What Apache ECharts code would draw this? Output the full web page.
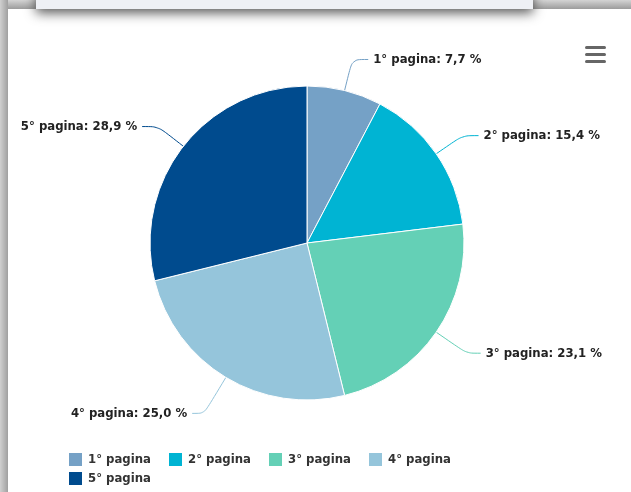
<!DOCTYPE html>
<html>
<head>
<meta charset="utf-8">
<script src="https://cdn.jsdelivr.net/npm/echarts@6/dist/echarts.min.js"></script>
<style>
  html, body { margin: 0; padding: 0; background: #fff; }
  #chart { width: 631px; height: 492px; }
</style>
</head>
<body>
<div id="chart"></div>
<script>
const pages = ["1° pagina", "2° pagina", "3° pagina", "4° pagina", "5° pagina"];
const shares = [7.7, 15.4, 23.1, 25.0, 28.9];
const colors = ["#75a1c6", "#00b4d3", "#64d0b6", "#95c5db", "#004b8e"];

const font = "'DejaVu Sans Condensed', 'DejaVu Sans', sans-serif";
const chart = echarts.init(document.getElementById("chart"));

const fmt = (v) => v.toFixed(1).replace(".", ",");

// connector lengths per slice (bottom labels sit a bit lower in the original)
const lineLen = [32, 32, 37, 42, 32];
const lineLen2 = [16, 16, 14, 12, 16];

chart.setOption({
  backgroundColor: "#fff",
  animation: false,
  color: colors,
  legend: {
    data: pages,
    left: 67,
    top: 451,
    width: 420,
    padding: 0,
    orient: "horizontal",
    icon: "rect",
    itemWidth: 15,
    itemHeight: 15,
    itemGap: 2,
    textStyle: {
      fontFamily: font,
      fontSize: 13,
      fontWeight: "bold",
      color: "#333",
      width: 77,
      lineHeight: 15,
    },
  },
  series: [
    {
      type: "pie",
      center: [307, 243],
      radius: 157,
      startAngle: 90,
      clockwise: true,
      avoidLabelOverlap: false,
      data: pages.map((name, i) => ({
        name,
        value: shares[i],
        labelLine: { length: lineLen[i], length2: lineLen2[i] },
      })),
      itemStyle: { borderColor: "#fff", borderWidth: 1 },
      label: {
        show: true,
        position: "outside",
        formatter: (p) => p.name + ": " + fmt(p.value) + " %",
        fontFamily: font,
        fontSize: 13,
        fontWeight: "bold",
        color: "#222",
        distanceToLabelLine: 5,
      },
      labelLine: {
        show: true,
        length: 32,
        length2: 16,
        smooth: 0.3,
        lineStyle: { width: 1 },
      },
      emphasis: { disabled: true },
    },
  ],
  graphic: [
    // outer grey frame (top and left)
    {
      type: "rect", z: 100,
      shape: { x: 0, y: 0, width: 631, height: 9 },
      style: {
        fill: new echarts.graphic.LinearGradient(0, 0, 0, 1, [
          { offset: 0, color: "#d4d4d4" },
          { offset: 1, color: "#9c9c9c" },
        ]),
      },
    },
    {
      type: "rect", z: 100,
      shape: { x: 0, y: 0, width: 8, height: 492 },
      style: {
        fill: new echarts.graphic.LinearGradient(0, 0, 1, 0, [
          { offset: 0, color: "#d0d0d0" },
          { offset: 1, color: "#a0a0a0" },
        ]),
      },
    },
    // popup box overlapping the top
    {
      type: "rect", z: 101,
      shape: { x: 36, y: -10, width: 497, height: 19 },
      style: {
        fill: "#eef0f5",
        shadowBlur: 12,
        shadowOffsetY: 4,
        shadowColor: "rgba(0,0,0,0.65)",
      },
    },
    // context menu button
    {
      type: "group", z: 100, left: 585, top: 46,
      children: [0, 7, 14].map((dy) => ({
        type: "rect",
        shape: { x: 0, y: dy, width: 21, height: 3, r: 1.5 },
        style: { fill: "#666" },
      })),
    },
  ],
});
</script>
</body>
</html>
